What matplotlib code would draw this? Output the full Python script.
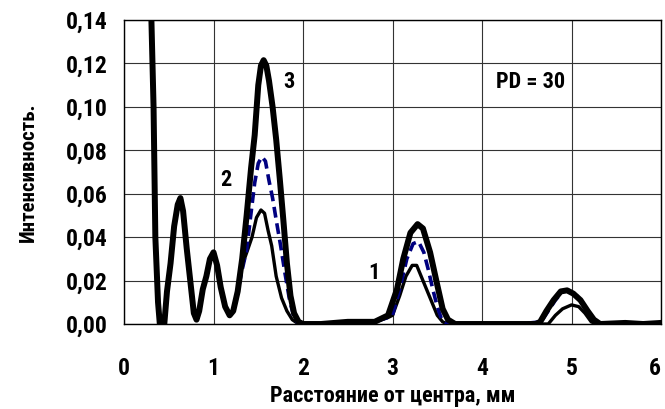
import numpy as np
import matplotlib
matplotlib.use("Agg")
import matplotlib.pyplot as plt
from matplotlib import font_manager

# narrow bold font like the original, falling back if not installed
names = set(f.name for f in font_manager.fontManager.ttflist)
stretches = [(f.name, f.stretch) for f in font_manager.fontManager.ttflist]
fam = 'Liberation Sans'
stretch = 'normal'
for cand in ['Liberation Sans Narrow', 'Arial Narrow', 'Roboto Condensed', 'Open Sans Condensed']:
    if cand in names:
        fam = cand
        break
else:
    for n, s in stretches:
        if n in ('Liberation Sans', 'Noto Sans', 'DejaVu Sans') and s not in ('normal', 500, 'medium'):
            fam, stretch = n, 'condensed'
            break
plt.rcParams['font.family'] = [fam, 'DejaVu Sans']
plt.rcParams['font.stretch'] = stretch
plt.rcParams['font.weight'] = 'bold'

# common part near centre (all three curves coincide here)
x_common = [0.30, 0.33, 0.35, 0.38, 0.40, 0.45, 0.48, 0.52, 0.56, 0.60, 0.63, 0.66,
            0.70, 0.74, 0.78, 0.81, 0.84, 0.88, 0.92, 0.96, 1.00, 1.04, 1.08, 1.13,
            1.18, 1.22, 1.27]
y_common = [0.150, 0.100, 0.040, 0.010, 0.000, 0.000, 0.015, 0.028, 0.045, 0.055, 0.058, 0.052,
            0.035, 0.020, 0.005, 0.002, 0.006, 0.016, 0.022, 0.030, 0.033, 0.027, 0.017, 0.008,
            0.004, 0.006, 0.015]

# curve 1
x1 = [1.32, 1.38, 1.43, 1.48, 1.53, 1.57, 1.61, 1.65, 1.70, 1.76, 1.82, 1.88, 1.95,
      2.20, 2.50, 2.80, 2.95, 3.00, 3.08, 3.15, 3.22, 3.27, 3.32, 3.38, 3.44, 3.50, 3.56, 3.62,
      4.00, 4.40, 4.74, 4.82, 4.90, 5.00, 5.08, 5.15, 5.22, 5.28, 5.60, 5.80, 6.00]
y1 = [0.027, 0.034, 0.040, 0.049, 0.0525, 0.051, 0.043, 0.036, 0.022, 0.012, 0.006, 0.002, 0.000,
      0.000, 0.001, 0.001, 0.003, 0.004, 0.013, 0.022, 0.027, 0.027, 0.022, 0.016, 0.010, 0.004, 0.001, 0.000,
      0.000, 0.000, 0.000, 0.004, 0.007, 0.0088, 0.008, 0.005, 0.001, 0.000, 0.0005, 0.000, 0.0005]

# curve 2 (dashed)
x2 = [1.32, 1.37, 1.41, 1.46, 1.50, 1.54, 1.58, 1.62, 1.66, 1.70, 1.75, 1.80, 1.85, 1.90, 1.95,
      2.20, 2.50, 2.80, 2.95, 3.00, 3.08, 3.16, 3.23, 3.29, 3.35, 3.40, 3.45, 3.50, 3.55, 3.62,
      4.00, 4.40, 4.66, 4.74, 4.82, 4.90, 4.97, 5.05, 5.12, 5.20, 5.28, 5.34, 5.60, 5.80, 6.00]
y2 = [0.025, 0.034, 0.048, 0.065, 0.074, 0.077, 0.075, 0.066, 0.058, 0.048, 0.036, 0.023, 0.011, 0.003, 0.000,
      0.000, 0.001, 0.001, 0.003, 0.004, 0.016, 0.030, 0.037, 0.038, 0.033, 0.025, 0.016, 0.008, 0.002, 0.000,
      0.000, 0.000, 0.001, 0.006, 0.011, 0.015, 0.0155, 0.0135, 0.010, 0.005, 0.001, 0.000, 0.0005, 0.000, 0.0005]

# curve 3 (thick)
x3 = [1.32, 1.37, 1.42, 1.46, 1.50, 1.53, 1.56, 1.59, 1.62, 1.66, 1.70, 1.74, 1.78, 1.82, 1.86,
      1.90, 1.95, 2.00, 2.20, 2.50, 2.80, 2.95, 3.05, 3.12, 3.20, 3.28, 3.34, 3.42, 3.50, 3.56,
      3.62, 3.70, 4.00, 4.30, 4.60, 4.65, 4.72, 4.80, 4.88, 4.95, 5.02, 5.10, 5.18, 5.25, 5.32,
      5.60, 5.80, 6.00]
y3 = [0.030, 0.050, 0.072, 0.087, 0.110, 0.119, 0.1215, 0.119, 0.112, 0.100, 0.085, 0.067, 0.048, 0.028, 0.013,
      0.005, 0.001, 0.000, 0.000, 0.001, 0.001, 0.004, 0.016, 0.030, 0.042, 0.046, 0.044, 0.033, 0.018, 0.007,
      0.002, 0.000, 0.000, 0.000, 0.000, 0.001, 0.006, 0.011, 0.015, 0.0155, 0.014, 0.011, 0.006, 0.002, 0.000,
      0.0005, 0.000, 0.0005]

xticks = [0, 1, 2, 3, 4, 5, 6]
yticks = [0.00, 0.02, 0.04, 0.06, 0.08, 0.10, 0.12, 0.14]

fig = plt.figure(figsize=(6.65, 4.09), dpi=100)
ax = fig.add_axes([0.1865, 0.2078, 0.8075, 0.7433])

ax.plot(x_common + x1, y_common + y1, color='black', lw=2.4, solid_joinstyle='round', zorder=3)
ax.plot(x_common + x2, y_common + y2, color='#000080', lw=2.6, dashes=(3.0, 1.6), zorder=4)
ax.plot(x_common + x3, y_common + y3, color='black', lw=4.3, solid_joinstyle='round', zorder=5)

ax.set_xlim(0, 6)
ax.set_ylim(0, 0.14)
ax.set_xticks(xticks)
ax.set_yticks(yticks)
ax.set_xticklabels([str(t) for t in xticks])
ax.set_yticklabels([f"{t:.2f}".replace('.', ',') for t in yticks])
ax.grid(True, color='#333333', lw=0.8)
ax.set_axisbelow(True)
ax.tick_params(length=0, labelsize=17)
ax.tick_params(axis='x', pad=24)
ax.tick_params(axis='y', pad=12)
for s in ax.spines.values():
    s.set_color('black')
    s.set_linewidth(1.0)
# last x label sits at the right edge in the original
ax.get_xticklabels()[-1].set_horizontalalignment('right')
ax.get_xticklabels()[-1].set_x(6.02)

fig.text(0.590, 0.016, 'Расстояние от центра, мм', fontsize=16, fontweight='bold',
         ha='center', va='baseline')
ax.set_ylabel('Интенсивность.', fontsize=15, fontweight='bold', labelpad=20)

ax.text(1.84, 0.1115, '3', fontsize=16, fontweight='bold', ha='center', va='center')
ax.text(1.14, 0.0665, '2', fontsize=16, fontweight='bold', ha='center', va='center')
ax.text(2.79, 0.0235, '1', fontsize=16, fontweight='bold', ha='center', va='center')
ax.text(4.54, 0.1115, 'PD = 30', fontsize=16, fontweight='bold', ha='center', va='center')

fig.savefig('out.png', dpi=100)
